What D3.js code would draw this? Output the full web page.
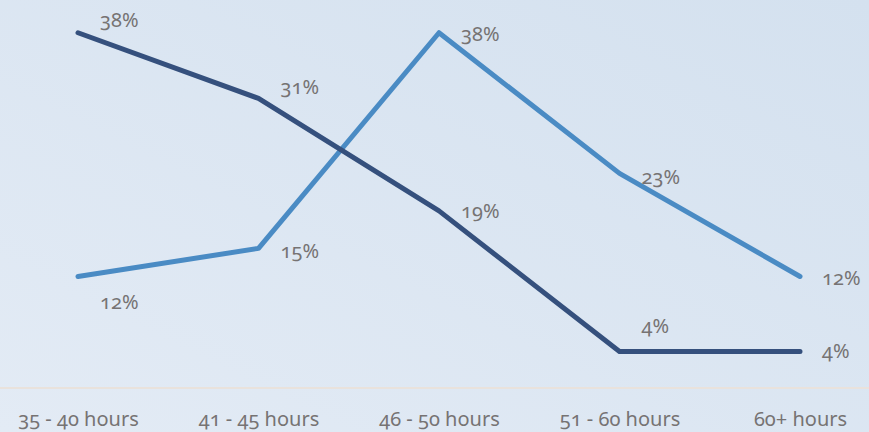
<!DOCTYPE html>
<html>
<head>
<meta charset="utf-8">
<script src="https://cdn.jsdelivr.net/npm/d3@7"></script>
<style>
  html, body { margin: 0; padding: 0; background: #dde8f3; }
  svg { display: block; }
  text { font-family: "Noto Sans", Lato, sans-serif; font-variant-numeric: oldstyle-nums; font-feature-settings: "onum" 1; fill: #767373; }
</style>
</head>
<body>
<svg id="chart" width="869" height="432"></svg>
<script>
// Weekly working hours bands
const categories = ["35 - 40 hours", "41 - 45 hours", "46 - 50 hours", "51 - 60 hours", "60+ hours"];
// Share of respondents per band, two groups
const seriesDark = [0.38, 0.31, 0.19, 0.04, 0.04];
const seriesLight = [0.12, 0.15, 0.38, 0.23, 0.12];
// Vertical nudges for the value labels (px, relative to the point)
const labelShiftDark = [-6, -4, 7, -19, 6];
const labelShiftLight = [32, 10, 8, 11, 8];

const W = 869, H = 432;
const svg = d3.select("#chart");

// Soft diagonal background wash
const defs = svg.append("defs");
const grad = defs.append("linearGradient")
  .attr("id", "bg").attr("x1", "0%").attr("y1", "100%").attr("x2", "100%").attr("y2", "0%");
grad.append("stop").attr("offset", "0%").attr("stop-color", "#e3ebf5");
grad.append("stop").attr("offset", "100%").attr("stop-color", "#d4e1ef");
svg.append("rect").attr("width", W).attr("height", H).attr("fill", "url(#bg)");

const x = d3.scalePoint().domain(categories).range([78, 800]);
const y = d3.scaleLinear().domain([0, 0.4]).range([389, 14]);

// Category axis baseline
svg.append("line")
  .attr("x1", 0).attr("x2", W)
  .attr("y1", y(0) - 1).attr("y2", y(0) - 1)
  .attr("stroke", "#e9e2dc").attr("stroke-width", 2);

// Category labels
const xAxis = d3.axisBottom(x).tickSize(0).tickPadding(0);
const gx = svg.append("g").attr("transform", `translate(0, ${y(0)})`).call(xAxis);
gx.select(".domain").remove();
gx.selectAll("text")
  .attr("dy", null)
  .attr("y", 37)
  .style("font-size", "20px")
  .style("font-family", null)
  .attr("fill", null);

const line = d3.line()
  .x((d, i) => x(categories[i]))
  .y(d => y(d));

const series = [
  { values: seriesLight, color: "#4a8bc4", shift: labelShiftLight },
  { values: seriesDark, color: "#35507d", shift: labelShiftDark }
];

series.forEach(s => {
  svg.append("path")
    .datum(s.values)
    .attr("d", line)
    .attr("fill", "none")
    .attr("stroke", s.color)
    .attr("stroke-width", 5)
    .attr("stroke-linejoin", "round")
    .attr("stroke-linecap", "round");
});

series.forEach(s => {
  svg.append("g").selectAll("text")
    .data(s.values)
    .join("text")
    .attr("x", (d, i) => x(categories[i]) + 22)
    .attr("y", (d, i) => y(d) + s.shift[i])
    .style("font-size", "20px")
    .text(d => d3.format(".0%")(d));
});
</script>
</body>
</html>
